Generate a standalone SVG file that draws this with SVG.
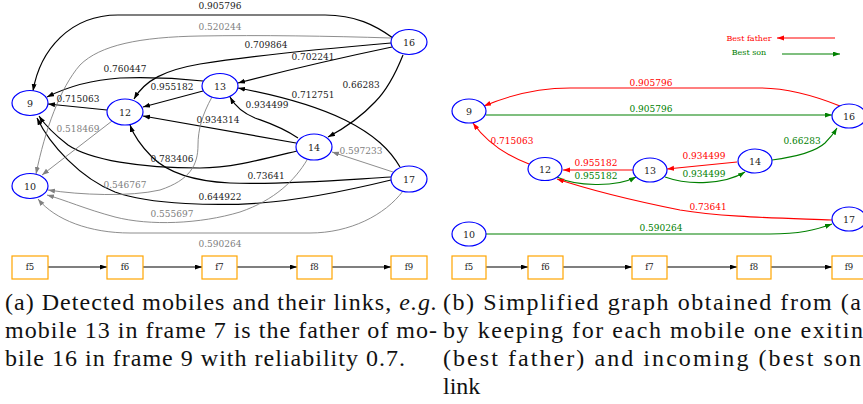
<svg xmlns="http://www.w3.org/2000/svg" width="863" height="404" viewBox="0 0 863 404">
<style>
.nd{fill:#fff;stroke:#0000ff;stroke-width:1.2}
.nt{font-family:"DejaVu Serif",serif;font-size:9.5px;fill:#222;text-anchor:middle}
.fr{fill:#fff;stroke:#ffa500;stroke-width:1.2}
.ft{font-family:"DejaVu Serif",serif;font-size:8.5px;fill:#222;text-anchor:middle}
.eb{fill:none;stroke:#000;stroke-width:1.2;marker-end:url(#ab)}
.eg{fill:none;stroke:#808080;stroke-width:0.9;marker-end:url(#ag)}
.er{fill:none;stroke:#ff0000;stroke-width:1.1;marker-end:url(#ar)}
.en{fill:none;stroke:#008000;stroke-width:1.1;marker-end:url(#an)}
.lb{font-family:"DejaVu Serif",serif;font-size:9px;fill:#222;text-anchor:middle}
.lg{font-family:"DejaVu Serif",serif;font-size:9px;fill:#808080;text-anchor:middle}
.lr{font-family:"DejaVu Serif",serif;font-size:9px;fill:#ff0000;text-anchor:middle}
.ln{font-family:"DejaVu Serif",serif;font-size:9px;fill:#008000;text-anchor:middle}
.cap{font-family:"Liberation Serif",serif;font-size:24px;fill:#111}
</style>
<defs>
<marker id="ab" markerUnits="userSpaceOnUse" markerWidth="8" markerHeight="6" refX="7" refY="2.5" orient="auto"><path d="M0,0 L7,2.5 L0,5 z" fill="#000"/></marker>
<marker id="ag" markerUnits="userSpaceOnUse" markerWidth="8" markerHeight="6" refX="7" refY="2.5" orient="auto"><path d="M0,0 L7,2.5 L0,5 z" fill="#808080"/></marker>
<marker id="ar" markerUnits="userSpaceOnUse" markerWidth="8" markerHeight="6" refX="7" refY="2.5" orient="auto"><path d="M0,0 L7,2.5 L0,5 z" fill="#ff0000"/></marker>
<marker id="an" markerUnits="userSpaceOnUse" markerWidth="8" markerHeight="6" refX="7" refY="2.5" orient="auto"><path d="M0,0 L7,2.5 L0,5 z" fill="#008000"/></marker>
</defs>
<rect width="863" height="404" fill="#fff"/>

<g id="connectors">
<!-- left graph -->
<path class="eb" d="M393,38 C375,25 355,15 325,15 L118,15 C70,15 40,50 33,91"/>
<path class="eb" d="M391,43 C320,49 250,56 200,64 C165,70 145,80 134,99"/>
<path class="eb" d="M392,47 C330,60 280,72 238,83"/>
<path class="eb" d="M403,55 C395,75 385,92 375,102 C360,118 345,128 328,137"/>
<path class="eb" d="M203,81 C175,78 150,77 120,78 C90,80 65,88 47,97"/>
<path class="eb" d="M203,91 L143,107"/>
<path class="eb" d="M107,110 L48,104"/>
<path class="eb" d="M298,138 C280,126 266,122 255,118 C243,113 235,106 230,97"/>
<path class="eb" d="M296,143 L143,116"/>
<path class="eb" d="M297,151 C260,160 230,168 200,168 C140,168 90,160 68,145 C55,135 45,125 39,116"/>
<path class="eb" d="M391,177 C340,180 280,185 230,183 C190,181 165,170 152,157 C142,147 134,136 130,125"/>
<path class="eb" d="M391,180 C350,190 300,200 260,203 C220,206 150,205 115,192 C80,178 50,145 37,118"/>
<path class="eb" d="M400,167 C390,150 375,135 345,120 C310,103 270,94 238,88"/>
<path class="eg" d="M391,38 C330,36 260,35 200,36 C140,37 100,45 80,65 C60,88 45,130 36,174"/>
<path class="eg" d="M112,121 L42,175"/>
<path class="eg" d="M212,97 C202,115 198,130 198,145 C198,165 190,180 160,190 C130,197 80,195 48,190"/>
<path class="eg" d="M307,160 C295,180 275,200 240,212 C200,224 150,226 115,217 C85,209 65,200 47,195"/>
<path class="eg" d="M393,172 L332,152"/>
<path class="eg" d="M403,191 C385,215 350,233 310,233 L130,233 C90,233 55,220 38,199"/>
<!-- left frames -->
<path class="eb" d="M48,267 L107,267"/>
<path class="eb" d="M143,267 L202,267"/>
<path class="eb" d="M237,267 L297,267"/>
<path class="eb" d="M332,267 L391,267"/>
<!-- right graph -->
<path class="er" d="M840,106 C820,98 790,88 760,88 L570,88 C540,88 510,95 484,106"/>
<path class="en" d="M486,115 L832,115"/>
<path class="er" d="M529,164 C505,155 485,140 473,123"/>
<path class="er" d="M633,170 L563,170"/>
<path class="en" d="M557,177 C575,186 615,188 636,177"/>
<path class="er" d="M737,162 L667,169"/>
<path class="en" d="M665,177 C690,186 725,184 745,172"/>
<path class="en" d="M772,160 C795,157 815,152 825,143 C830,138 834,133 837,128"/>
<path class="er" d="M832,220 C780,218 720,217 680,210 C630,200 590,190 557,179"/>
<path class="en" d="M486,234 L770,234 C800,234 815,230 832,224"/>
<!-- right frames -->
<path class="eb" d="M486,267 L528,267"/>
<path class="eb" d="M563,267 L632,267"/>
<path class="eb" d="M667,267 L737,267"/>
<path class="eb" d="M771,267 L832,267"/>
<!-- legend -->
<path class="er" d="M835,38 L777,38"/>
<path class="en" d="M782,54 L840,54"/>
</g>

<g id="edge-labels">
<text class="lb" x="220" y="9">0.905796</text>
<text class="lg" x="220" y="30">0.520244</text>
<text class="lb" x="266" y="48">0.709864</text>
<text class="lb" x="313" y="60">0.702241</text>
<text class="lb" x="125" y="72">0.760447</text>
<text class="lb" x="172" y="90">0.955182</text>
<text class="lb" x="78" y="102">0.715063</text>
<text class="lb" x="361" y="88">0.66283</text>
<text class="lb" x="267" y="108">0.934499</text>
<text class="lb" x="313" y="98">0.712751</text>
<text class="lg" x="78" y="132">0.518469</text>
<text class="lb" x="218" y="123">0.934314</text>
<text class="lg" x="361" y="154">0.597233</text>
<text class="lb" x="172" y="162">0.783406</text>
<text class="lg" x="125" y="188">0.546767</text>
<text class="lb" x="266" y="179">0.73641</text>
<text class="lb" x="220" y="200">0.644922</text>
<text class="lg" x="172" y="217">0.555697</text>
<text class="lg" x="220" y="247">0.590264</text>
<text class="lr" x="651" y="86">0.905796</text>
<text class="ln" x="651" y="112">0.905796</text>
<text class="lr" x="512" y="144">0.715063</text>
<text class="lr" x="596" y="166">0.955182</text>
<text class="ln" x="596" y="179">0.955182</text>
<text class="lr" x="704" y="159">0.934499</text>
<text class="ln" x="704" y="177">0.934499</text>
<text class="ln" x="802" y="144">0.66283</text>
<text class="lr" x="708" y="210">0.73641</text>
<text class="ln" x="661" y="231">0.590264</text>
</g>

<g id="legend">
<text class="lr" x="749" y="41" style="font-size:8px">Best father</text>
<text class="ln" x="749" y="55" style="font-size:8px">Best son</text>
</g>

<g id="n9"><ellipse class="nd" cx="30" cy="103" rx="18" ry="12.5"/><text class="nt" x="30" y="106.5">9</text></g>
<g id="n12"><ellipse class="nd" cx="125" cy="112" rx="18" ry="13"/><text class="nt" x="125" y="115.5">12</text></g>
<g id="n13"><ellipse class="nd" cx="220" cy="86" rx="18" ry="12.5"/><text class="nt" x="220" y="89.5">13</text></g>
<g id="n16"><ellipse class="nd" cx="409" cy="42" rx="18" ry="12.5"/><text class="nt" x="409" y="45.5">16</text></g>
<g id="n14"><ellipse class="nd" cx="314" cy="147" rx="18" ry="13"/><text class="nt" x="314" y="150.5">14</text></g>
<g id="n17"><ellipse class="nd" cx="409" cy="179" rx="18" ry="13"/><text class="nt" x="409" y="182.5">17</text></g>
<g id="n10"><ellipse class="nd" cx="30" cy="186" rx="18" ry="12.5"/><text class="nt" x="30" y="189.5">10</text></g>

<g id="f5a"><rect class="fr" x="12" y="256" width="36" height="23"/><text class="ft" x="30" y="270">f5</text></g>
<g id="f6a"><rect class="fr" x="107" y="256" width="36" height="23"/><text class="ft" x="125" y="270">f6</text></g>
<g id="f7a"><rect class="fr" x="202" y="256" width="35" height="23"/><text class="ft" x="219.5" y="270">f7</text></g>
<g id="f8a"><rect class="fr" x="297" y="256" width="35" height="23"/><text class="ft" x="314.5" y="270">f8</text></g>
<g id="f9a"><rect class="fr" x="391" y="256" width="36" height="23"/><text class="ft" x="409" y="270">f9</text></g>

<g id="r9"><ellipse class="nd" cx="469" cy="111" rx="17" ry="12"/><text class="nt" x="469" y="114.5">9</text></g>
<g id="r16"><ellipse class="nd" cx="849" cy="116" rx="17" ry="12"/><text class="nt" x="849" y="119.5">16</text></g>
<g id="r12"><ellipse class="nd" cx="545" cy="169" rx="17" ry="11.5"/><text class="nt" x="545" y="172.5">12</text></g>
<g id="r13"><ellipse class="nd" cx="650" cy="170" rx="17" ry="12"/><text class="nt" x="650" y="173.5">13</text></g>
<g id="r14"><ellipse class="nd" cx="755" cy="161" rx="17" ry="12"/><text class="nt" x="755" y="164.5">14</text></g>
<g id="r17"><ellipse class="nd" cx="849" cy="219" rx="17" ry="12"/><text class="nt" x="849" y="222.5">17</text></g>
<g id="r10"><ellipse class="nd" cx="469" cy="234" rx="17" ry="12"/><text class="nt" x="469" y="237.5">10</text></g>

<g id="f5b"><rect class="fr" x="452" y="256" width="34" height="23"/><text class="ft" x="469" y="270">f5</text></g>
<g id="f6b"><rect class="fr" x="528" y="256" width="35" height="23"/><text class="ft" x="545.5" y="270">f6</text></g>
<g id="f7b"><rect class="fr" x="632" y="256" width="35" height="23"/><text class="ft" x="649.5" y="270">f7</text></g>
<g id="f8b"><rect class="fr" x="737" y="256" width="34" height="23"/><text class="ft" x="754" y="270">f8</text></g>
<g id="f9b"><rect class="fr" x="832" y="256" width="34" height="23"/><text class="ft" x="849" y="270">f9</text></g>

<g id="captions">
<text class="cap" x="5" y="310" textLength="432" lengthAdjust="spacing">(a) Detected mobiles and their links, <tspan font-style="italic">e.g.</tspan></text>
<text class="cap" x="5" y="338" textLength="432" lengthAdjust="spacing">mobile 13 in frame 7 is the father of mo-</text>
<text class="cap" x="5" y="366" textLength="400" lengthAdjust="spacing">bile 16 in frame 9 with reliability 0.7.</text>
<text class="cap" x="443" y="310" textLength="418" lengthAdjust="spacing">(b) Simplified graph obtained from (a</text>
<text class="cap" x="443" y="338" textLength="420" lengthAdjust="spacing">by keeping for each mobile one exitin</text>
<text class="cap" x="443" y="366" textLength="418" lengthAdjust="spacing">(best father) and incoming (best son</text>
<text class="cap" x="443" y="394">link</text>
</g>
</svg>
